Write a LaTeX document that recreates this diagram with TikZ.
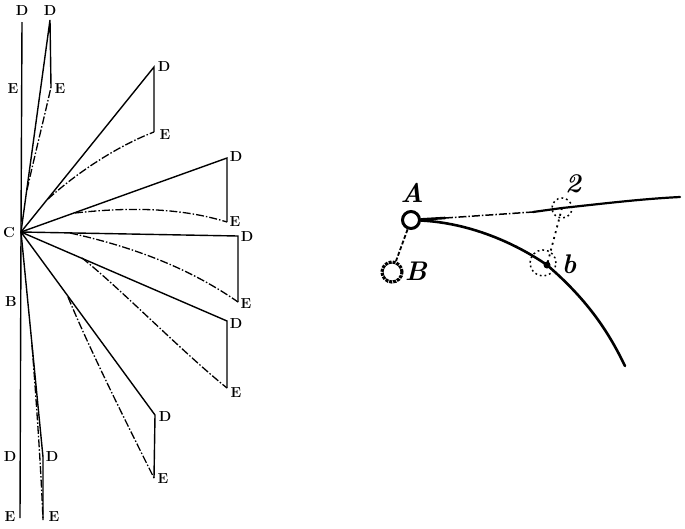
\documentclass[tikz,border=0pt]{standalone}
\usepackage{amsmath}
\usepackage{xcolor}
\tikzset{
	letter/.style={inner sep=0pt,font=\fontsize{14.5}{14.5}\selectfont\bfseries},
	hand/.style={inner sep=0pt,font=\fontsize{27}{27}\selectfont\bfseries\itshape},
	ray/.style={line width=1.4pt},
	phase/.style={line width=1.3pt,dash pattern=on 8pt off 2pt on 1.5pt off 2pt},
	stroke/.style={line width=2.6pt,line cap=round},
	spot/.style={circle,draw,line width=1.5pt,dash pattern=on 1.8pt off 3pt,inner sep=0pt}
}
\begin{document}
\begin{tikzpicture}[x=1pt,y=-1pt]
			\useasboundingbox (0,0) rectangle (685,528);
			\coordinate (C) at (21,232);
			\coordinate (top) at (22,22);
			\coordinate (bottom) at (20,518);
			% ends of the rays
			\foreach \Nombre/\xd/\yd/\xe/\ye in {2/50/20/51/87,3/154/67/154/132,4/227/158/227/222,5/238/236/238/302,6/227/321/227/388,7/155/415/154/478,8/43/457/43/520}{
				\coordinate (D\Nombre) at (\xd,\yd);
				\coordinate (E\Nombre) at (\xe,\ye);
				\draw[ray] (C) -- (D\Nombre) -- (E\Nombre);
			}
			\draw[ray] (top) -- (C) -- (bottom);
			% curved parts
			\coordinate (s2) at (27,190);
			\coordinate (s3) at (48,199);
			\coordinate (s4) at (75,213);
			\coordinate (s5) at (70,233);
			\coordinate (s6) at (82,258);
			\coordinate (s7) at (68,297);
			\coordinate (s8) at (32,345);
			\draw[phase] (s2) .. controls (36,150) and (46,110) .. (E2);
			\draw[phase] (s3) .. controls (80,170) and (120,145) .. (E3);
			\draw[phase] (s4) .. controls (120,208) and (175,206) .. (E4);
			\draw[phase] (s5) .. controls (125,245) and (185,265) .. (E5);
			\draw[phase] (s6) .. controls (120,288) and (180,350) .. (E6);
			\draw[phase] (s7) .. controls (90,350) and (125,420) .. (E7);
			\draw[phase] (s8) .. controls (37,410) and (41,470) .. (E8);
			% letters
			\foreach \Nom/\Lettre/\x/\y in {a/D/22/11,b/D/50/11,c/E/13/89,d/E/60/89,e/D/164/67,f/E/165/135,g/D/236/157,h/E/235/222,i/D/247/237,j/E/246/304,k/D/236/324,l/E/236/393,m/D/165/417,n/E/163/479,o/D/52/457,p/D/10/457,q/E/54/517,r/E/10/517,s/C/9/233,t/B/11/302}
				\node[letter] (\Nom) at (\x,\y) {\Lettre};
			% second figure
			\node[circle,draw,line width=3pt,inner sep=0pt,minimum size=17pt] (A) at (411,220) {};
			\node[spot,minimum size=20pt] (a2) at (562,208) {};
			\node[spot,minimum size=26pt] (b2) at (543,263) {};
			\node[spot,minimum size=20pt,line width=3.2pt,dash pattern=on 3pt off 1pt] (B2) at (392,272) {};
			\coordinate (far) at (680,197);
			\coordinate (low) at (625,366);
			\coordinate (join) at (533,212);
			\coordinate (mid) at (547,265);
			\draw[stroke] (A) -- (445,218);
			\draw[phase,line width=1.5pt] (445,218) -- (join);
			\draw[stroke,line width=2.2pt] (join) -- (a2.center) .. controls (600,204) and (640,199) .. (far);
			\draw[stroke] (A) .. controls (470,223) and (515,243) .. (mid) .. controls (590,302) and (610,335) .. (low);
			\draw[line width=1.8pt,dash pattern=on 2pt off 4pt] (a2.center) -- (mid);
			\draw[line width=1.8pt,dash pattern=on 4pt off 2pt] (A) -- (B2);
			\fill (mid) circle (3.5pt);
			\node[hand] (lA) at (412,193) {A};
			\node[hand] (lB) at (416,271) {B};
			\node[hand] (l2) at (573,184) {2};
			\node[hand] (lb) at (569,264) {b};
		\end{tikzpicture}
\end{document}
